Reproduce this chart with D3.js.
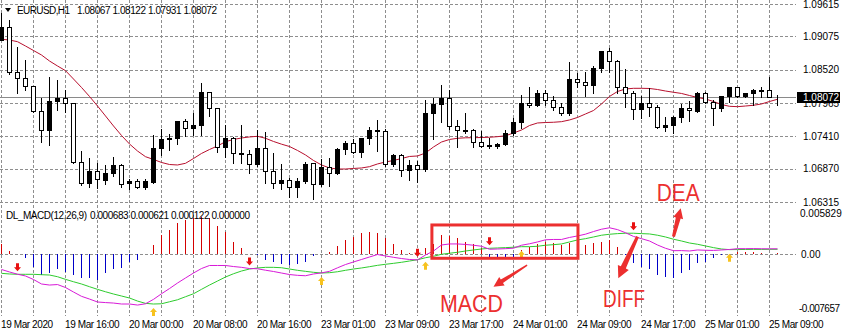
<!DOCTYPE html>
<html lang="en">
<head>
<meta charset="UTF-8">
<title>EURUSD,H1 with DL_MACD</title>
<script src="https://d3js.org/d3.v7.min.js"></script>
<style>
  html, body { margin: 0; padding: 0; background: #fff; }
  svg { display: block; font-family: "Liberation Sans", Arial, sans-serif; }
  .lbl { font-size: 10px; fill: #000; }
  .tight { letter-spacing: -0.4px; }
  .note { fill: #ec2f2f; font-size: 23px; }
</style>
</head>
<body>
<script>
// ---- data (H1 bars, 19 Mar 08:00 .. 25 Mar 10:00) ----
const open = [1.09015,1.09237,1.08487,1.08377,1.08249,1.07832,1.07515,1.07999,1.08044,1.07960,
  1.06987,1.06637,1.06837,1.06690,1.06804,1.06932,1.06627,1.06665,1.06560,1.06654,
  1.07210,1.07360,1.07377,1.07665,1.07544,1.07599,1.08144,1.07877,1.07237,1.07377,
  1.07127,1.07110,1.06949,1.07210,1.06832,1.06627,1.06682,1.06560,1.06665,1.06960,
  1.06610,1.06894,1.06794,1.07199,1.07304,1.07144,1.07377,1.07515,1.07499,1.06944,
  1.07099,1.06849,1.06932,1.06860,1.07794,1.07949,1.08044,1.07582,1.07515,1.07520,
  1.07310,1.07249,1.07250,1.07282,1.07460,1.07644,1.07960,1.07932,1.08127,1.08015,
  1.07894,1.07794,1.08365,1.08310,1.08260,1.08544,1.08832,1.08665,1.08227,1.08127,
  1.07860,1.07960,1.07904,1.07570,1.07599,1.07727,1.07877,1.07835,1.08137,1.07987,
  1.07877,1.08082,1.08237,1.08087,1.08127,1.08182,1.08175,1.08067];
const high = [1.09482,1.09365,1.08915,1.08694,1.08265,1.08070,1.08415,1.08365,1.08194,1.07982,
  1.07182,1.07060,1.06987,1.06944,1.07087,1.06970,1.06720,1.06715,1.06720,1.07444,
  1.07554,1.07460,1.07670,1.07710,1.07820,1.08320,1.08150,1.07894,1.07615,1.07420,
  1.07610,1.07199,1.07527,1.07499,1.07154,1.06960,1.06737,1.06737,1.07004,1.06987,
  1.07054,1.07070,1.07237,1.07349,1.07377,1.07404,1.07582,1.07699,1.07554,1.07127,
  1.07127,1.07032,1.07015,1.08032,1.08070,1.08282,1.08194,1.07699,1.07810,1.07554,
  1.07515,1.07404,1.07320,1.07532,1.07737,1.08115,1.08249,1.08194,1.08194,1.08099,
  1.07987,1.08665,1.08487,1.08499,1.08599,1.08849,1.08894,1.08694,1.08544,1.08182,
  1.08099,1.08227,1.07949,1.07749,1.07765,1.07960,1.08015,1.08170,1.08170,1.08027,
  1.08099,1.08254,1.08254,1.08137,1.08210,1.08249,1.08415,1.08122];
const low = [1.09007,1.08449,1.08137,1.08182,1.07820,1.07320,1.07265,1.07849,1.07820,1.06960,
  1.06599,1.06560,1.06544,1.06610,1.06754,1.06570,1.06532,1.06549,1.06532,1.06637,
  1.07099,1.07182,1.07277,1.07420,1.07432,1.07432,1.07749,1.07154,1.07070,1.06970,
  1.06960,1.06794,1.06915,1.06637,1.06544,1.06527,1.06404,1.06394,1.06637,1.06365,
  1.06582,1.06587,1.06782,1.07115,1.07127,1.07070,1.07277,1.07170,1.06920,1.06920,
  1.06754,1.06682,1.06654,1.06837,1.07360,1.07654,1.07527,1.07237,1.07470,1.07237,
  1.07237,1.07220,1.07220,1.07270,1.07432,1.07544,1.07894,1.07915,1.07932,1.07849,
  1.07765,1.07765,1.08227,1.08087,1.08137,1.08487,1.08487,1.08127,1.07894,1.07699,
  1.07710,1.07754,1.07544,1.07504,1.07460,1.07654,1.07670,1.07820,1.07960,1.07599,
  1.07837,1.07987,1.08070,1.08060,1.07932,1.08070,1.08060,1.07931];
const close = [1.09237,1.08487,1.08377,1.08249,1.07832,1.07515,1.07999,1.08044,1.07960,1.06987,
  1.06637,1.06837,1.06694,1.06804,1.06932,1.06610,1.06665,1.06560,1.06665,1.07220,
  1.07360,1.07377,1.07665,1.07544,1.07599,1.08144,1.07877,1.07237,1.07377,1.07127,
  1.07110,1.06949,1.07210,1.06832,1.06627,1.06682,1.06560,1.06665,1.06949,1.06610,
  1.06894,1.06794,1.07199,1.07304,1.07144,1.07377,1.07515,1.07499,1.06944,1.07099,
  1.06849,1.06932,1.06860,1.07794,1.07949,1.08044,1.07582,1.07515,1.07499,1.07310,
  1.07254,1.07265,1.07282,1.07460,1.07644,1.07960,1.07932,1.08127,1.08015,1.07894,
  1.07794,1.08365,1.08310,1.08260,1.08544,1.08832,1.08665,1.08227,1.08127,1.07860,
  1.07960,1.07904,1.07570,1.07599,1.07727,1.07877,1.07849,1.08137,1.07987,1.07877,
  1.08082,1.08237,1.08087,1.08127,1.08182,1.08170,1.08070,1.08072];
// red moving average on the price panel
const ma = [1.09027,1.09015,1.08987,1.08915,1.08840,1.08765,1.08665,1.08582,1.08504,1.08365,
  1.08224,1.08074,1.07915,1.07749,1.07582,1.07424,1.07282,1.07165,1.07070,1.07024,
  1.06974,1.06940,1.06932,1.06960,1.07040,1.07124,1.07190,1.07249,1.07320,1.07357,
  1.07382,1.07399,1.07410,1.07377,1.07324,1.07279,1.07240,1.07174,1.07099,1.07007,
  1.06932,1.06882,1.06865,1.06865,1.06874,1.06882,1.06904,1.06949,1.06982,1.07007,
  1.07040,1.07074,1.07082,1.07132,1.07232,1.07315,1.07357,1.07377,1.07385,1.07387,
  1.07390,1.07394,1.07404,1.07419,1.07465,1.07515,1.07590,1.07632,1.07640,1.07644,
  1.07654,1.07682,1.07724,1.07782,1.07840,1.07949,1.08074,1.08157,1.08199,1.08210,
  1.08210,1.08207,1.08190,1.08165,1.08144,1.08124,1.08090,1.08057,1.08032,1.07990,
  1.07940,1.07910,1.07904,1.07915,1.07927,1.07949,1.07990,1.08027];
// DL_MACD(12,26,9): DIFF (magenta), DEA (green), MACD histogram
const diff = [-0.00190,-0.00221,-0.00249,-0.00271,-0.00315,-0.00371,-0.00384,-0.00378,-0.00415,-0.00471,
  -0.00525,-0.00559,-0.00596,-0.00603,-0.00609,-0.00621,-0.00621,-0.00634,-0.00618,-0.00563,
  -0.00493,-0.00428,-0.00359,-0.00296,-0.00234,-0.00178,-0.00140,-0.00140,-0.00140,-0.00153,
  -0.00163,-0.00178,-0.00181,-0.00199,-0.00215,-0.00234,-0.00253,-0.00263,-0.00268,-0.00246,
  -0.00232,-0.00213,-0.00169,-0.00128,-0.00096,-0.00065,-0.00034,-0.00003,-0.00021,-0.00038,
  -0.00053,-0.00065,-0.00070,-0.00009,0.00041,0.00116,0.00129,0.00129,0.00123,0.00113,
  0.00100,0.00063,0.00066,0.00070,0.00076,0.00113,0.00131,0.00154,0.00181,0.00185,
  0.00185,0.00210,0.00229,0.00251,0.00284,0.00313,0.00331,0.00308,0.00269,0.00223,
  0.00195,0.00166,0.00116,0.00075,0.00045,0.00046,0.00041,0.00054,0.00050,0.00048,
  0.00054,0.00060,0.00070,0.00070,0.00071,0.00069,0.00068,0.000683];
const dea = [-0.00238,-0.00246,-0.00250,-0.00250,-0.00250,-0.00255,-0.00259,-0.00280,-0.00313,-0.00343,
  -0.00371,-0.00405,-0.00438,-0.00468,-0.00496,-0.00521,-0.00546,-0.00584,-0.00613,-0.00621,
  -0.00618,-0.00593,-0.00568,-0.00530,-0.00493,-0.00438,-0.00384,-0.00334,-0.00284,-0.00243,
  -0.00209,-0.00184,-0.00171,-0.00163,-0.00163,-0.00168,-0.00184,-0.00200,-0.00213,-0.00225,
  -0.00234,-0.00230,-0.00218,-0.00200,-0.00184,-0.00171,-0.00155,-0.00138,-0.00125,-0.00113,
  -0.00100,-0.00084,-0.00068,-0.00043,-0.00025,0.00000,0.00013,0.00025,0.00041,0.00054,
  0.00066,0.00075,0.00079,0.00083,0.00088,0.00095,0.00095,0.00100,0.00113,0.00120,
  0.00129,0.00154,0.00179,0.00195,0.00216,0.00238,0.00250,0.00258,0.00263,0.00263,
  0.00258,0.00254,0.00238,0.00216,0.00188,0.00166,0.00141,0.00125,0.00104,0.00083,
  0.00066,0.00058,0.00059,0.00060,0.00061,0.00061,0.00062,0.000621];
const hist = [0.00125,0.00041,0.00006,-0.00050,-0.00154,-0.00259,-0.00238,-0.00184,-0.00225,-0.00259,
  -0.00300,-0.00291,-0.00321,-0.00238,-0.00184,-0.00175,-0.00091,-0.00071,0.00004,0.00116,
  0.00241,0.00304,0.00388,0.00429,0.00459,0.00471,0.00459,0.00359,0.00275,0.00159,
  0.00084,0.00006,-0.00006,-0.00071,-0.00091,-0.00125,-0.00134,-0.00116,-0.00100,-0.00025,
  0.00004,0.00025,0.00109,0.00179,0.00221,0.00263,0.00275,0.00263,0.00200,0.00125,
  0.00054,0.00012,-0.00005,0.00075,0.00125,0.00241,0.00234,0.00200,0.00159,0.00125,
  0.00075,-0.00041,-0.00041,-0.00041,-0.00029,0.00054,0.00096,0.00125,0.00159,0.00138,
  0.00116,0.00138,0.00121,0.00116,0.00138,0.00159,0.00179,0.00096,-0.00004,-0.00113,
  -0.00154,-0.00184,-0.00259,-0.00279,-0.00291,-0.00238,-0.00196,-0.00113,-0.00091,-0.00050,
  -0.00008,0.00002,0.00033,0.00033,0.00033,0.00012,0.00008,0.000122];
// bars where the indicator prints its cross arrows
const downArrows = [2, 31, 52, 61, 79];
const upArrows = [19, 40, 53, 65, 91];

const priceTicks = [1.09615, 1.09075, 1.08520, 1.07965, 1.07410, 1.06870, 1.06315];
const macdMax = 0.005829, macdMin = -0.007657;
const timeLabels = ['19 Mar 2020', '19 Mar 16:00', '20 Mar 00:00', '20 Mar 08:00', '20 Mar 16:00',
  '23 Mar 01:00', '23 Mar 09:00', '23 Mar 17:00', '24 Mar 01:00', '24 Mar 09:00',
  '24 Mar 17:00', '25 Mar 01:00', '25 Mar 09:00'];

// ---- layout ----
const W = 842, H = 334;
const plotRight = 796;
const n = open.length;

const svg = d3.select('body').append('svg')
  .attr('width', W)
  .attr('height', H);

const x = d3.scaleLinear().domain([0, n - 1]).range([1.5, 1.5 + 8 * (n - 1)]);
const y = d3.scaleLinear().domain([1.06315, 1.09615]).range([202, 4]);
const ym = d3.scaleLinear().domain([macdMin, macdMax]).range([315.6, 207.6]);
const snap = v => Math.round(v) + 0.5;

// grid
const grid = svg.append('g')
  .attr('stroke', '#8e8e8e')
  .attr('stroke-dasharray', '3,2')
  .attr('shape-rendering', 'crispEdges');

grid.selectAll('line.h')
  .data(priceTicks)
  .join('line')
  .attr('class', 'h')
  .attr('x1', 0).attr('x2', plotRight)
  .attr('y1', d => snap(y(d))).attr('y2', d => snap(y(d)));

grid.selectAll('line.v')
  .data(d3.range(0, n, 4))
  .join('line')
  .attr('class', 'v')
  .attr('x1', d => x(d)).attr('x2', d => x(d))
  .attr('y1', 0).attr('y2', 316);

grid.append('line')
  .attr('x1', 0).attr('x2', plotRight)
  .attr('y1', snap(ym(0))).attr('y2', snap(ym(0)));

// current price line
svg.append('line')
  .attr('x1', 0).attr('x2', plotRight)
  .attr('y1', snap(y(close[n - 1]))).attr('y2', snap(y(close[n - 1])))
  .attr('stroke', '#8a8a8a')
  .attr('shape-rendering', 'crispEdges');

// moving average
svg.append('path')
  .datum(ma)
  .attr('fill', 'none')
  .attr('stroke', '#b8102e')
  .attr('stroke-width', 1)
  .attr('d', d3.line().x((d, i) => x(i)).y(d => y(d)));

// candles
const gC = svg.append('g').attr('shape-rendering', 'crispEdges');
const py = v => snap(y(v));
gC.selectAll('line.wick')
  .data(d3.range(n))
  .join('line')
  .attr('class', 'wick')
  .attr('x1', i => x(i)).attr('x2', i => x(i))
  .attr('y1', i => py(high[i])).attr('y2', i => py(low[i]))
  .attr('stroke', '#000');

gC.selectAll('rect.body')
  .data(d3.range(n))
  .join('rect')
  .attr('class', 'body')
  .attr('x', i => x(i) - 2)
  .attr('width', 4)
  .attr('y', i => py(Math.max(open[i], close[i])))
  .attr('height', i => py(Math.min(open[i], close[i])) - py(Math.max(open[i], close[i])))
  .attr('fill', i => close[i] > open[i] ? '#000' : '#fff')
  .attr('stroke', '#000');

// MACD histogram
svg.append('g')
  .attr('shape-rendering', 'crispEdges')
  .selectAll('rect')
  .data(hist)
  .join('rect')
  .attr('x', (d, i) => x(i) - 0.5)
  .attr('width', 1)
  .attr('y', d => Math.min(Math.round(ym(0)), ym(d)))
  .attr('height', d => Math.abs(ym(d) - Math.round(ym(0))))
  .attr('fill', d => d >= 0 ? '#d40000' : '#0000c8');

// DEA and DIFF lines
const lineM = d3.line().x((d, i) => x(i)).y(d => ym(d));
svg.append('path').datum(dea)
  .attr('fill', 'none').attr('stroke', '#2ecc2e').attr('stroke-width', 1)
  .attr('d', lineM);
svg.append('path').datum(diff)
  .attr('fill', 'none').attr('stroke', '#d81ad8').attr('stroke-width', 1)
  .attr('d', lineM);

// cross arrows
function crossArrow(cx, tip, dir) {
  // dir = 1 points down, -1 points up
  const s = dir;
  return `M${cx - 1.5},${tip - 8 * s} L${cx + 1.5},${tip - 8 * s} L${cx + 1.5},${tip - 4 * s}
    L${cx + 3.5},${tip - 4 * s} L${cx},${tip} L${cx - 3.5},${tip - 4 * s} L${cx - 1.5},${tip - 4 * s} Z`;
}
svg.selectAll('path.dn')
  .data(downArrows)
  .join('path')
  .attr('class', 'dn')
  .attr('fill', '#e81010')
  .attr('d', i => crossArrow(x(i), Math.min(ym(diff[i]), ym(dea[i])) - 3, 1));
svg.selectAll('path.up')
  .data(upArrows)
  .join('path')
  .attr('class', 'up')
  .attr('fill', '#f7c21e')
  .attr('d', i => crossArrow(x(i), Math.max(ym(diff[i]), ym(dea[i])) + 4, -1));

// price axis labels
svg.selectAll('text.p')
  .data(priceTicks)
  .join('text')
  .attr('class', 'lbl p')
  .attr('x', 803)
  .attr('y', d => y(d) + 3.5)
  .text(d => d.toFixed(5));

// current price box
const cy = y(close[n - 1]);
svg.append('rect')
  .attr('x', 797).attr('y', Math.round(cy) - 5)
  .attr('width', 43).attr('height', 11)
  .attr('fill', '#000');
svg.append('text')
  .attr('class', 'lbl')
  .attr('x', 803).attr('y', cy + 4)
  .style('fill', '#fff')
  .text(close[n - 1].toFixed(5));

// MACD axis labels
svg.append('text').attr('class', 'lbl').attr('x', 800).attr('y', ym(macdMax) + 9.5).text(macdMax.toFixed(6));
svg.append('text').attr('class', 'lbl').attr('x', 801).attr('y', ym(0) + 4).text('0.00');
svg.append('text').attr('class', 'lbl')
  .attr('x', 799).attr('y', ym(macdMin) - 4)
  .attr('textLength', 41).attr('lengthAdjust', 'spacing')
  .text(macdMin.toFixed(6));

// time axis labels
svg.selectAll('text.t')
  .data(timeLabels)
  .join('text')
  .attr('class', 'lbl tight t')
  .attr('x', (d, k) => x(k * 8) - 0.5)
  .attr('y', 328)
  .text(d => d);

// headers
svg.append('path').attr('d', 'M5,8 L11,8 L8,12 Z').attr('fill', '#000');
svg.append('text')
  .attr('class', 'lbl')
  .attr('x', 17).attr('y', 14)
  .attr('textLength', 53).attr('lengthAdjust', 'spacing')
  .text('EURUSD,H1');
svg.append('text')
  .attr('class', 'lbl')
  .attr('x', 77).attr('y', 14)
  .attr('textLength', 140).attr('lengthAdjust', 'spacing')
  .text([open[n - 1], high[n - 1], low[n - 1], close[n - 1]].map(v => v.toFixed(5)).join(' '));
svg.append('text')
  .attr('class', 'lbl')
  .attr('x', 6).attr('y', 219)
  .attr('textLength', 81).attr('lengthAdjust', 'spacing')
  .text('DL_MACD(12,26,9)');
svg.append('text')
  .attr('class', 'lbl')
  .attr('x', 90).attr('y', 219)
  .attr('textLength', 160).attr('lengthAdjust', 'spacing')
  .text([diff[n - 1], dea[n - 1], hist[n - 1], 0].map(v => v.toFixed(6)).join(' '));

// ---- red annotations ----
const red = '#ec2f2f';
svg.append('rect')
  .attr('x', x(53.8)).attr('y', ym(0.00366))
  .attr('width', x(72.06) - x(53.8))
  .attr('height', ym(-0.0005) - ym(0.00366))
  .attr('fill', 'none')
  .attr('stroke', red)
  .attr('stroke-width', 3);

function brushArrow(x1, y1, x2, y2, w1, w2, hl, hw) {
  const dx = x2 - x1, dy = y2 - y1, len = Math.hypot(dx, dy);
  const ux = dx / len, uy = dy / len, nx = -uy, ny = ux;
  const bx = x2 - ux * hl, by = y2 - uy * hl;
  const p = [
    [x1 + nx * w1 / 2, y1 + ny * w1 / 2],
    [bx + nx * w2 / 2, by + ny * w2 / 2],
    [bx + nx * hw / 2, by + ny * hw / 2],
    [x2, y2],
    [bx - nx * hw / 2, by - ny * hw / 2],
    [bx - nx * w2 / 2, by - ny * w2 / 2],
    [x1 - nx * w1 / 2, y1 - ny * w1 / 2]
  ];
  return 'M' + p.map(q => q.join(',')).join('L') + 'Z';
}
svg.append('path').attr('fill', red)
  .attr('d', brushArrow(x(65.7), ym(-0.00134), x(61.5), ym(-0.00405), 1.5, 4, 10, 10));
svg.append('path').attr('fill', red)
  .attr('d', brushArrow(x(79.5), ym(0.0022), x(77.1), ym(-0.0030), 3, 5.5, 12, 12));
svg.append('path').attr('fill', red)
  .attr('d', brushArrow(x(84.0), ym(0.0022), x(84.9), ym(0.00574), 3, 5, 10, 10));

svg.append('text').attr('class', 'note')
  .attr('x', x(54.8)).attr('y', ym(-0.00721))
  .attr('textLength', 63).attr('lengthAdjust', 'spacingAndGlyphs')
  .text('MACD');
svg.append('text').attr('class', 'note')
  .attr('x', x(75.2)).attr('y', ym(-0.00658))
  .attr('textLength', 42).attr('lengthAdjust', 'spacingAndGlyphs')
  .text('DIFF');
svg.append('text').attr('class', 'note')
  .attr('x', x(81.9)).attr('y', y(1.06332))
  .attr('textLength', 43).attr('lengthAdjust', 'spacingAndGlyphs')
  .text('DEA');
</script>
</body>
</html>
